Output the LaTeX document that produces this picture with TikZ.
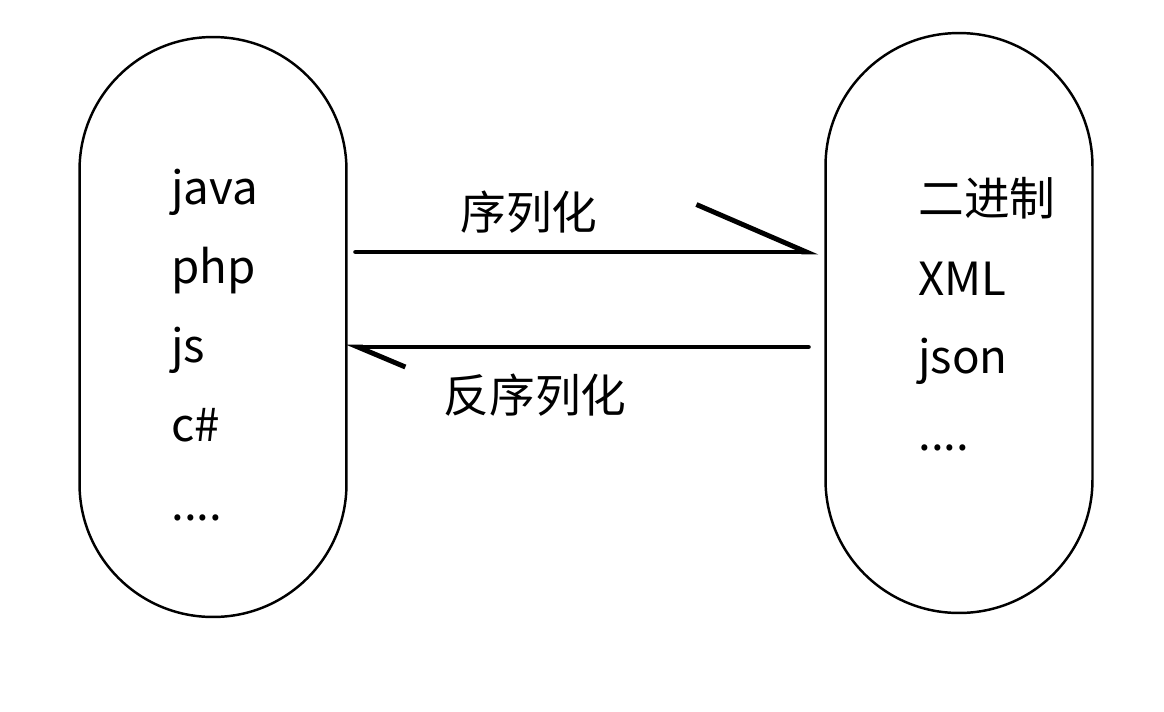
\documentclass[tikz,border=0pt]{standalone}
\usepackage{fontspec}
\setmainfont{Noto Sans CJK SC}
\usetikzlibrary{arrows.meta,calc}
\tikzset{
    pill/.style={draw,thick,line width=1.4pt,rectangle,rounded corners=2.66cm,
        minimum width=5.34cm,minimum height=11.6cm,inner sep=0pt},
    item/.style={anchor=base west,inner sep=0pt,font=\fontsize{26}{30}\selectfont},
    word/.style={inner sep=0pt,font=\fontsize{26}{30}\selectfont},
    flow/.style={line width=2.8pt,line cap=round},
}
\begin{document}
\begin{tikzpicture}[x=0.02cm,y=-0.02cm]
        \useasboundingbox (0,0) rectangle (1164,711);
        % region
        \node[pill] (lang) at (213,327) {};
        \node[pill] (fmt) at (959,323) {};
        % text
        \node[item] (java) at (171,204) {java};
        \node[item] (php) at (171,283) {php};
        \node[item] (js) at (171,362) {js};
        \node[item] (cs) at (171,441) {c\#};
        \node[item] (more1) at (171,520) {....};
        \node[item] (bin) at (918,215) {二进制};
        \node[item] (xml) at (918,295) {XML};
        \node[item] (json) at (918,373) {json};
        \node[item] (more2) at (918,450) {....};
        %
        \node[word] (ser) at (529,212) {序列化};
        \node[word] (deser) at (535,395) {反序列化};
        % arrows
        \draw[flow,-{Straight Barb[left,length=2.2cm,width=1.9cm]}]
            ($(lang.east)+(8,-75)$) -- ($(fmt.west)+(-6,-71)$);
        \draw[flow,-{Straight Barb[left,length=0.95cm,width=0.8cm]}]
            ($(fmt.west)+(-16,24)$) -- ($(lang.east)+(-2,20)$);
\end{tikzpicture}
\end{document}
